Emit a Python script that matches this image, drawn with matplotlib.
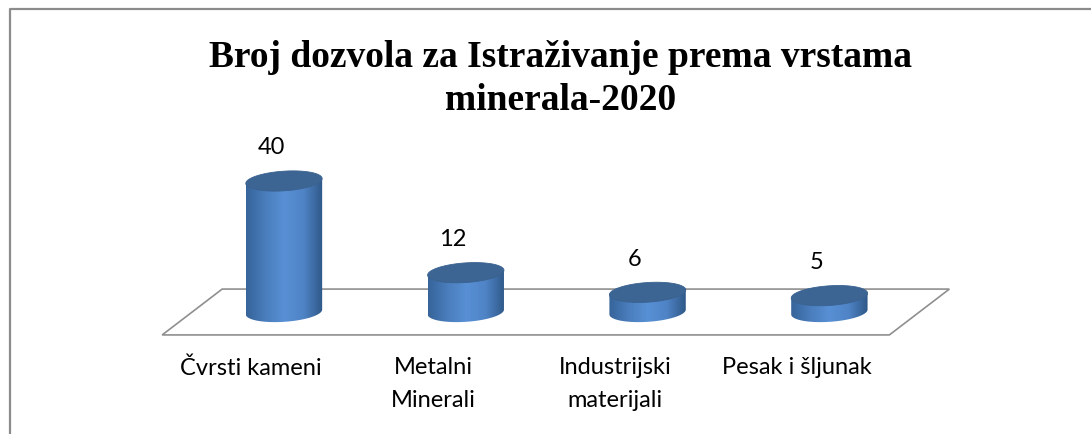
import numpy as np
import matplotlib.pyplot as plt
from matplotlib.patches import Polygon
from matplotlib.colors import LinearSegmentedColormap
from matplotlib.lines import Line2D

categories = ["Čvrsti kameni", "Metalni\nMinerali", "Industrijski\nmaterijali", "Pesak i šljunak"]
values = [40, 12, 6, 5]
title = "Broj dozvola za Istraživanje prema vrstama\nminerala-2020"

fig = plt.figure(figsize=(10.91, 4.35), dpi=100)
ax = fig.add_axes([0, 0, 1, 1])
ax.axis("off")

# frame of the chart area (no right edge, bottom is cut off)
fig.add_artist(Line2D([0.0095, 0.0095, 1.0], [0.0, 0.977, 0.977], color="#8c8c8c", lw=1.6))

# floor in perspective
xs = np.arange(len(values))
x0, x1 = -0.34, 3.66
back, front = 7.0, -7.0
shift = 0.33
floor = Polygon([(x0, back), (x1, back), (x1 - shift, front), (x0 - shift, front)],
                closed=True, fill=False, edgecolor="#8f8f8f", lw=1.2)
ax.add_patch(floor)

cmap = LinearSegmentedColormap.from_list(
    "cyl", ["#36649a", "#4a7dbc", "#5890d5", "#4f84c6", "#2f5888"])

half_w = 0.21
eh = 3.0      # half height of the ellipse in value units
shear = 3.5   # slight tilt of the ellipses
t = np.linspace(0, np.pi, 60)

for x, v in zip(xs, values):
    # body = side rectangle + lower half of the base ellipse
    left_top = (x - half_w, v - shear * half_w)
    right_top = (x + half_w, v + shear * half_w)
    bottom = np.column_stack([x - half_w * np.cos(t),
                              -eh * np.sin(t) - shear * half_w * np.cos(t)])
    pts = np.vstack([[right_top], [left_top], bottom])
    body = Polygon(pts, closed=True, facecolor="none", edgecolor="none")
    ax.add_patch(body)
    grad = np.linspace(0, 1, 200).reshape(1, -1)
    img = ax.imshow(grad, cmap=cmap, aspect="auto",
                    extent=[x - half_w, x + half_w, -eh - 2, v + 2], zorder=2)
    img.set_clip_path(body)
    # top ellipse
    tt = np.linspace(0, 2 * np.pi, 120)
    tx = x + half_w * np.cos(tt)
    ty = v + eh * np.sin(tt) + shear * (tx - x)
    ax.add_patch(Polygon(np.column_stack([tx, ty]), closed=True,
                         facecolor="#3c6594", edgecolor="#3a6290", lw=0.6, zorder=3))
    ax.text(x - 0.07, v + 10.4, str(v), ha="center", va="center",
            fontsize=17, family="Lato", color="black")

for x, lab in zip(xs, categories):
    ax.text(x - 0.18, -13.5, lab, ha="center", va="top", fontsize=17,
            family="Lato", color="black", linespacing=1.72)

ax.text(1.52, 71.5, title, ha="center", va="center", fontsize=27,
        family="Liberation Serif", weight="bold", linespacing=1.3)

ax.set_xlim(-1.562, 4.439)
ax.set_ylim(-37.25, 95.57)

plt.savefig("out.png", dpi=100)
